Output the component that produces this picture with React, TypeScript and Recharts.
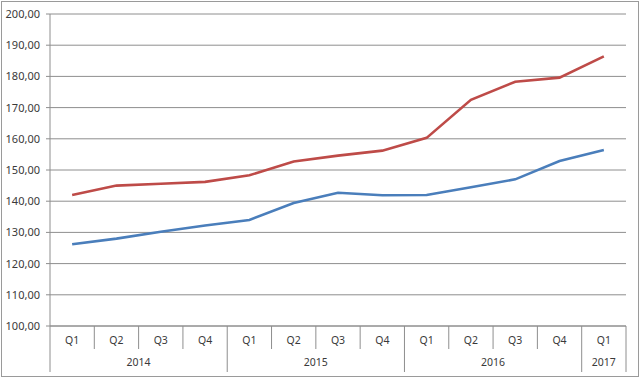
import React from "react";
import { ComposedChart, Line, XAxis, YAxis, CartesianGrid } from "recharts";

const quarters = ["Q1", "Q2", "Q3", "Q4", "Q1", "Q2", "Q3", "Q4", "Q1", "Q2", "Q3", "Q4", "Q1"];
const years = ["2014", "2014", "2014", "2014", "2015", "2015", "2015", "2015", "2016", "2016", "2016", "2016", "2017"];
const redSeries = [142.0, 145.0, 145.6, 146.2, 148.3, 152.7, 154.6, 156.2, 160.3, 172.5, 178.3, 179.6, 186.4];
const blueSeries = [126.2, 128.0, 130.2, 132.2, 134.0, 139.4, 142.7, 141.9, 142.0, 144.5, 147.0, 152.9, 156.4];
const yTicks = [100, 110, 120, 130, 140, 150, 160, 170, 180, 190, 200];

const data = quarters.map((q, i) => ({
  idx: i,
  q,
  year: years[i],
  red: redSeries[i],
  blue: blueSeries[i],
}));

const W = 640;
const H = 378;
const M = { top: 14, right: 14, left: 0, bottom: 6 };
const Y_W = 50;
const PLOT_W = W - M.right - M.left - Y_W;
const BW = PLOT_W / quarters.length;
const AXIS_COLOR = "#8e8e8e";
const FONT = "'Noto Sans', 'DejaVu Sans', sans-serif";
const TEXT = "#3a3a3a";

const QTick = (props: any) => {
  const { x, y, payload, index } = props;
  const i = payload && typeof payload.index === "number" ? payload.index : index;
  const left = x - BW / 2;
  const right = x + BW / 2;
  return (
    <g>
      <line x1={left} x2={left} y1={y} y2={y + 23} stroke={AXIS_COLOR} strokeWidth={1} />
      {i === quarters.length - 1 && (
        <line x1={right} x2={right} y1={y} y2={y + 23} stroke={AXIS_COLOR} strokeWidth={1} />
      )}
      <text x={x} y={y + 18} textAnchor="middle" fontSize={10.5} fontFamily={FONT} fill={TEXT}>
        {quarters[i]}
      </text>
    </g>
  );
};

const YearTick = (props: any) => {
  const { x, y, payload, index } = props;
  const i = payload && typeof payload.index === "number" ? payload.index : index;
  const isStart = i === 0 || years[i] !== years[i - 1];
  const isLast = i === years.length - 1;
  let len = 0;
  if (isStart) {
    for (let j = i; j < years.length && years[j] === years[i]; j++) len++;
  }
  const left = x - BW / 2;
  const right = x + BW / 2;
  return (
    <g>
      {isStart && <line x1={left} x2={left} y1={y} y2={y + 23} stroke={AXIS_COLOR} strokeWidth={1} />}
      {isLast && <line x1={right} x2={right} y1={y} y2={y + 23} stroke={AXIS_COLOR} strokeWidth={1} />}
      {isStart && (
        <text x={left + (len * BW) / 2} y={y + 17} textAnchor="middle" fontSize={10.5} fontFamily={FONT} fill={TEXT}>
          {years[i]}
        </text>
      )}
    </g>
  );
};

const fmt = (v: number) => v.toFixed(2).replace(".", ",");

export default function App() {
  return (
    <div style={{ position: "fixed", left: 0, top: 0, width: W, height: H, background: "#fff" }}>
      <div
        style={{
          position: "absolute",
          left: 1,
          top: 1,
          width: 636,
          height: 374,
          border: "1px solid #9a9a9a",
        }}
      />
      <div style={{ position: "absolute", left: 0, top: 0 }}>
        <ComposedChart width={W} height={H} data={data} margin={M}>
          <CartesianGrid vertical={false} stroke={AXIS_COLOR} strokeWidth={1} />
          <XAxis
            xAxisId="q"
            dataKey="idx"
            type="category"
            scale="band"
            interval={0}
            height={23}
            axisLine={{ stroke: AXIS_COLOR }}
            tickLine={false}
            tickSize={0}
            tickMargin={0}
            tick={<QTick />}
          />
          <XAxis
            xAxisId="year"
            dataKey="idx"
            type="category"
            scale="band"
            interval={0}
            height={23}
            axisLine={false}
            tickLine={false}
            tickSize={0}
            tickMargin={0}
            tick={<YearTick />}
          />
          <YAxis
            width={Y_W}
            domain={[100, 200]}
            ticks={yTicks}
            interval={0}
            tickFormatter={fmt}
            axisLine={{ stroke: AXIS_COLOR }}
            tickLine={{ stroke: AXIS_COLOR }}
            tickSize={4}
            tickMargin={6}
            tick={{ fontSize: 11, fontFamily: FONT, fill: TEXT }}
          />
          <Line
            xAxisId="q"
            type="linear"
            dataKey="red"
            stroke="#BE4B48"
            strokeWidth={2.6}
            dot={false}
            isAnimationActive={false}
          />
          <Line
            xAxisId="q"
            type="linear"
            dataKey="blue"
            stroke="#4A7EBB"
            strokeWidth={2.6}
            dot={false}
            isAnimationActive={false}
          />
        </ComposedChart>
      </div>
    </div>
  );
}
